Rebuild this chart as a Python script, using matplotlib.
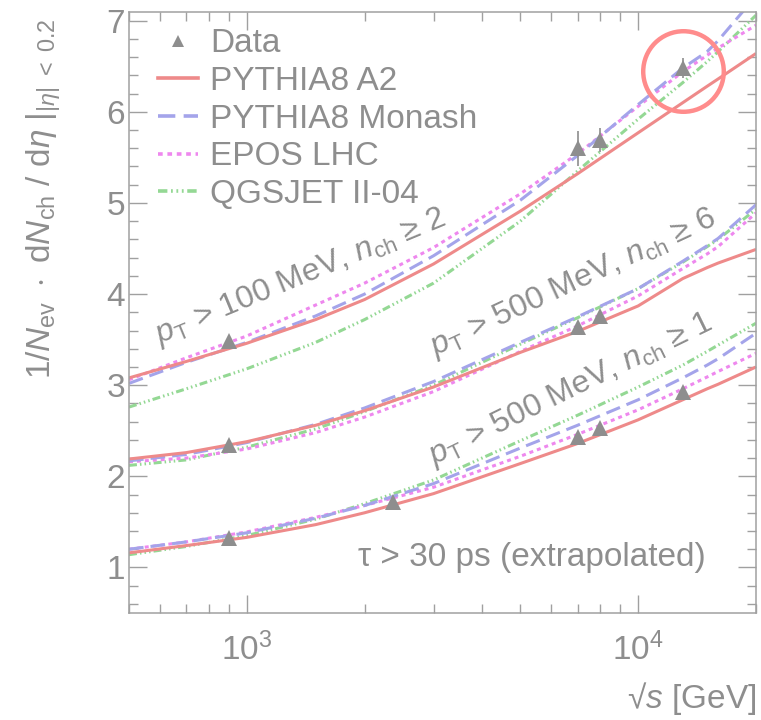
import matplotlib
matplotlib.use("Agg")
import matplotlib.pyplot as plt
from matplotlib.lines import Line2D
from matplotlib.ticker import MultipleLocator, LogLocator

plt.rcParams['font.family'] = ['Liberation Sans', 'DejaVu Sans']
plt.rcParams['mathtext.fontset'] = 'custom'
plt.rcParams['mathtext.rm'] = 'Liberation Sans'
plt.rcParams['mathtext.it'] = 'Liberation Sans:italic'
plt.rcParams['mathtext.bf'] = 'Liberation Sans:bold'

GREY = '#8e8e8e'
AXIS_GREY = '#a0a0a0'

# centre-of-mass energies (GeV) where the model curves were read
energies = [500, 700, 1000, 1500, 2000, 3000, 5000, 7000, 10000, 13000, 15000, 16000, 20000]

# pT > 100 MeV, nch >= 2
a2_pt100 = [3.08, 3.26, 3.46, 3.72, 3.94, 4.33, 4.91, 5.32, 5.77, 6.10, 6.28, 6.36, 6.64]
monash_pt100 = [3.02, 3.25, 3.47, 3.76, 4.00, 4.42, 5.03, 5.52, 6.08, 6.48, 6.66, 6.78, 7.27]
epos_pt100 = [3.06, 3.30, 3.54, 3.88, 4.12, 4.51, 5.10, 5.54, 6.06, 6.44, 6.62, 6.70, 6.95]
qgs_pt100 = [2.76, 2.96, 3.18, 3.47, 3.72, 4.12, 4.80, 5.35, 5.92, 6.32, 6.55, 6.66, 7.06]

# pT > 500 MeV, nch >= 6
a2_pt500_6 = [2.19, 2.26, 2.38, 2.56, 2.72, 2.98, 3.36, 3.59, 3.87, 4.17, 4.29, 4.34, 4.49]
monash_pt500_6 = [2.17, 2.24, 2.37, 2.57, 2.75, 3.04, 3.47, 3.75, 4.06, 4.36, 4.53, 4.61, 4.98]
epos_pt500_6 = [2.16, 2.20, 2.30, 2.48, 2.65, 2.93, 3.37, 3.65, 3.98, 4.28, 4.44, 4.52, 4.89]
qgs_pt500_6 = [2.12, 2.18, 2.32, 2.52, 2.71, 3.00, 3.45, 3.74, 4.06, 4.35, 4.52, 4.60, 4.93]

# pT > 500 MeV, nch >= 1
a2_pt500_1 = [1.16, 1.24, 1.33, 1.47, 1.60, 1.81, 2.14, 2.36, 2.62, 2.84, 2.96, 3.01, 3.20]
monash_pt500_1 = [1.20, 1.28, 1.38, 1.54, 1.68, 1.92, 2.31, 2.56, 2.84, 3.08, 3.22, 3.29, 3.57]
epos_pt500_1 = [1.20, 1.28, 1.39, 1.55, 1.68, 1.88, 2.22, 2.46, 2.73, 2.96, 3.09, 3.15, 3.35]
qgs_pt500_1 = [1.14, 1.23, 1.35, 1.53, 1.70, 1.96, 2.39, 2.67, 2.98, 3.22, 3.37, 3.44, 3.68]

# measurements
data_e_pt100 = [900, 7000, 8000, 13000]
data_pt100 = [3.48, 5.60, 5.69, 6.48]
data_err_pt100 = [0.07, 0.19, 0.13, 0.11]

data_e_pt500_6 = [900, 7000, 8000]
data_pt500_6 = [2.34, 3.64, 3.76]
data_err_pt500_6 = [0.05, 0.05, 0.05]

data_e_pt500_1 = [900, 2360, 7000, 8000, 13000]
data_pt500_1 = [1.32, 1.72, 2.43, 2.53, 2.93]
data_err_pt500_1 = [0.03, 0.03, 0.03, 0.03, 0.03]

model_names = ['PYTHIA8 A2', 'PYTHIA8 Monash', 'EPOS LHC', 'QGSJET II-04']
model_colors = ['#ee8a8a', '#a4a4ea', '#ee88ee', '#94d894']
model_dashes = [None, (4.8, 2.3), (1.3, 1.3), (2.6, 1.0, 0.5, 1.0, 0.5, 1.0, 0.5, 1.0)]

groups = [
    [a2_pt100, monash_pt100, epos_pt100, qgs_pt100],
    [a2_pt500_6, monash_pt500_6, epos_pt500_6, qgs_pt500_6],
    [a2_pt500_1, monash_pt500_1, epos_pt500_1, qgs_pt500_1],
]
data_sets = [
    (data_e_pt100, data_pt100, data_err_pt100),
    (data_e_pt500_6, data_pt500_6, data_err_pt500_6),
    (data_e_pt500_1, data_pt500_1, data_err_pt500_1),
]

fig = plt.figure(figsize=(7.61, 7.2), dpi=100)
ax = fig.add_axes([0.1695, 0.1486, 0.8239, 0.8347])


def draw_model(values, idx):
    line, = ax.plot(energies, values, color=model_colors[idx], lw=2.2,
                    solid_capstyle='butt', dash_capstyle='butt',
                    solid_joinstyle='round')
    if model_dashes[idx] is not None:
        line.set_dashes(model_dashes[idx])
    return line


for group in groups:
    # draw QGSJET first so A2 ends on top like the original
    for idx in [3, 2, 1, 0]:
        draw_model(group[idx], idx)

for e, y, err in data_sets:
    ax.errorbar(e, y, yerr=err, fmt='^', color=GREY, ms=11, mew=0,
                elinewidth=1.2, capsize=2.5, capthick=1.2, zorder=5)

# highlight the 13 TeV measurement
ax.plot([data_e_pt100[-1]], [data_pt100[-1] - 0.03], 'o', ms=58, mfc='none',
        mec='#ff8c8c', mew=3.2, zorder=6)

ax.set_xscale('log')
ax.set_xlim(500, 20000)
ax.set_ylim(0.5, 7.095)
ax.yaxis.set_major_locator(MultipleLocator(1))
ax.yaxis.set_minor_locator(MultipleLocator(0.2))
ax.xaxis.set_major_locator(LogLocator(base=10))
ax.xaxis.set_minor_locator(LogLocator(base=10, subs=range(2, 10)))

for spine in ax.spines.values():
    spine.set_color(AXIS_GREY)
    spine.set_linewidth(1.1)
ax.tick_params(which='both', direction='in', top=True, right=True,
               color=AXIS_GREY, width=1.0, labelcolor=GREY, labelsize=24)
ax.tick_params(which='major', length=13)
ax.tick_params(which='minor', length=6.5)
ax.tick_params(axis='y', pad=3)
ax.tick_params(axis='x', pad=14)

ax.set_ylabel(r'$1/N_{\rm ev}\ \cdot\ {\rm d}N_{\rm ch}\ /\ \left.{\rm d}\eta\ \right|_{|\eta|\ <\ 0.2}$',
              fontsize=24, color=GREY, loc='top')
ax.yaxis.set_label_coords(-0.105, 0.99)
ax.set_xlabel('\u221a$s$ [GeV]', fontsize=24, color=GREY, loc='right')
ax.xaxis.set_label_coords(1.0, -0.112)

# selection labels along the curves
ax.text(1368, 4.18, r'$p_{\rm T}$ > 100 MeV, $n_{\rm ch}$ ≥ 2', rotation=22.5,
        rotation_mode='anchor', ha='center', va='center', fontsize=23, color=GREY)
ax.text(6810, 4.12, r'$p_{\rm T}$ > 500 MeV, $n_{\rm ch}$ ≥ 6', rotation=25,
        rotation_mode='anchor', ha='center', va='center', fontsize=23, color=GREY)
ax.text(6730, 2.95, r'$p_{\rm T}$ > 500 MeV, $n_{\rm ch}$ ≥ 1', rotation=26,
        rotation_mode='anchor', ha='center', va='center', fontsize=23, color=GREY)
ax.text(0.92, 0.093, '\u03c4 > 30 ps (extrapolated)', transform=ax.transAxes,
        ha='right', va='center', fontsize=24, color=GREY)

handles = [Line2D([], [], marker='^', ls='none', color=GREY, ms=8, mew=0)]
for idx in range(4):
    h = Line2D([], [], color=model_colors[idx], lw=2.6)
    if model_dashes[idx] is not None:
        h.set_dashes(model_dashes[idx])
    handles.append(h)
leg = ax.legend(handles, ['Data'] + model_names, loc='upper left',
                bbox_to_anchor=(0.046, 0.973), frameon=False, fontsize=24,
                handlelength=1.2, handletextpad=0.38, labelspacing=0.2,
                borderpad=0, borderaxespad=0)
for t in leg.get_texts():
    t.set_color(GREY)

fig.savefig('out.png', dpi=100)
